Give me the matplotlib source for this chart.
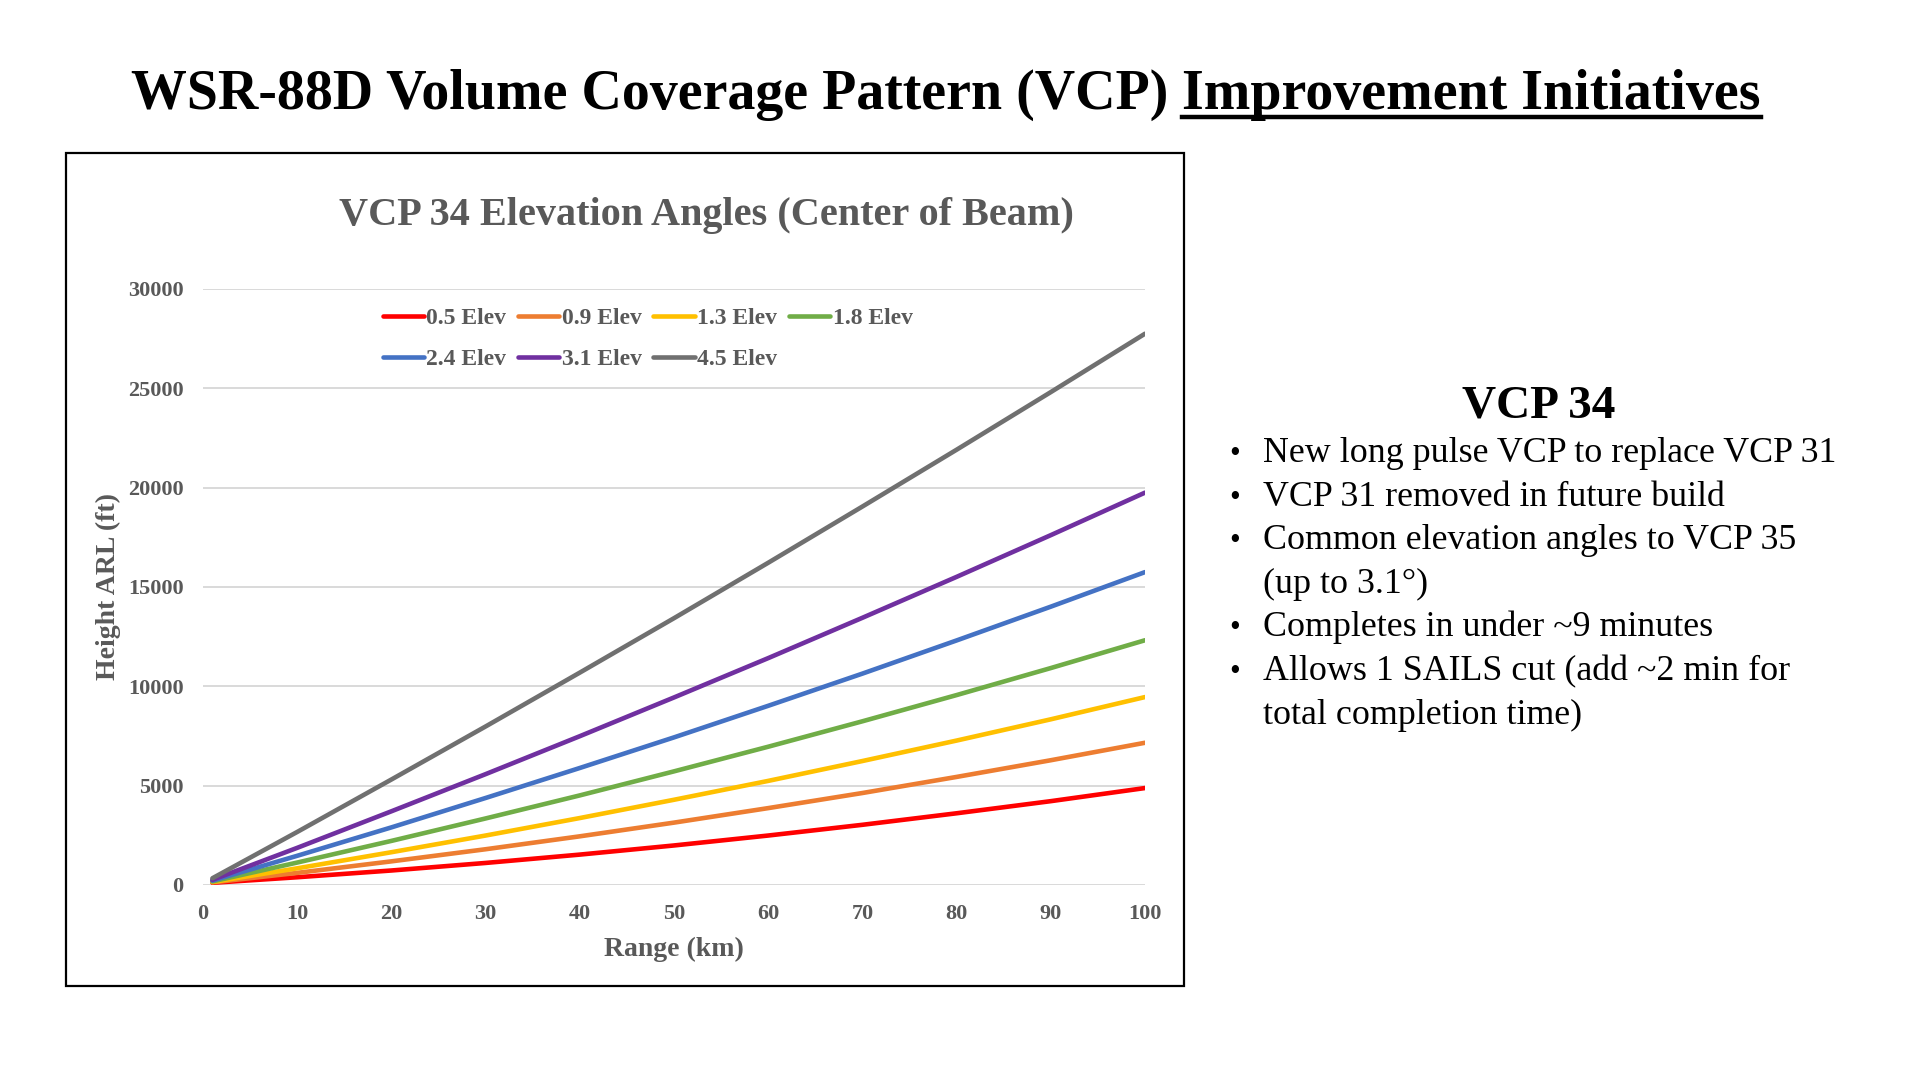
import matplotlib
matplotlib.use('Agg')
import matplotlib.pyplot as plt
from matplotlib.lines import Line2D
from matplotlib.patches import Rectangle

plt.rcParams['font.family'] = ['Liberation Serif', 'DejaVu Serif']

# range (km) and beam-centre heights (ft)
rango_km = [1, 10, 20, 30, 40, 50, 60, 70, 80, 90, 100]
elev_05 = [110, 390, 730, 1110, 1530, 1990, 2490, 3030, 3610, 4220, 4880]
elev_09 = [130, 610, 1190, 1800, 2450, 3140, 3870, 4630, 5440, 6280, 7160]
elev_13 = [150, 840, 1650, 2490, 3370, 4290, 5240, 6240, 7270, 8340, 9460]
elev_18 = [180, 1130, 2220, 3350, 4510, 5720, 6960, 8240, 9560, 10920, 12320]
elev_24 = [220, 1470, 2900, 4380, 5890, 7430, 9020, 10640, 12310, 14010, 15750]
elev_31 = [260, 1870, 3710, 5580, 7490, 9440, 11420, 13450, 15510, 17610, 19750]
elev_45 = [340, 2670, 5310, 7980, 10690, 13430, 16220, 19050, 21910, 24810, 27750]

nombres = ['0.5 Elev', '0.9 Elev', '1.3 Elev', '1.8 Elev', '2.4 Elev', '3.1 Elev', '4.5 Elev']
series = [elev_05, elev_09, elev_13, elev_18, elev_24, elev_31, elev_45]
colores = ['#FF0000', '#ED7D31', '#FFC000', '#70AD47', '#4472C4', '#7030A0', '#707070']

viñetas = ['New long pulse VCP to replace VCP 31',
           'VCP 31 removed in future build',
           'Common elevation angles to VCP 35',
           None,
           'Completes in under ~9 minutes',
           'Allows 1 SAILS cut (add ~2 min for',
           None]
continuaciones = [None, None, None, '(up to 3.1°)', None, None, 'total completion time)']

gris = '#595959'
W, H = 1920, 1080

fig = plt.figure(figsize=(19.2, 10.8), dpi=100)
fig.patch.set_facecolor('white')

# caja del grafico
fig.patches.append(Rectangle((66 / W, 1 - 986 / H), (1184 - 66) / W, (986 - 153) / H,
                             transform=fig.transFigure, fill=False,
                             edgecolor='black', linewidth=1.6))

ax = fig.add_axes([203 / W, 1 - 885 / H, (1145 - 203) / W, (885 - 289) / H])
lineas = []
for nombre, valores, color in zip(nombres, series, colores):
    l, = ax.plot(rango_km, valores, color=color, lw=3.3, label=nombre,
                 solid_capstyle='round')
    lineas.append(l)

ax.set_xlim(0, 100)
ax.set_ylim(0, 30000)
ax.set_xticks(range(0, 101, 10))
ax.set_yticks(range(0, 30001, 5000))
ax.grid(axis='y', color='#D9D9D9', lw=1.4)
ax.set_axisbelow(True)
for s in ax.spines.values():
    s.set_visible(False)
ax.tick_params(length=0, labelsize=16, labelcolor=gris)
ax.tick_params(axis='x', pad=14)
ax.tick_params(axis='y', pad=14)
for t in ax.get_xticklabels() + ax.get_yticklabels():
    t.set_fontweight('bold')
ax.set_xlabel('Range (km)', fontsize=20, fontweight='bold', color=gris, labelpad=9)
ax.set_ylabel('Height ARL (ft)', fontsize=20, fontweight='bold', color=gris, labelpad=5)

orden = [0, 4, 1, 5, 2, 6, 3]
leg = ax.legend([lineas[i] for i in orden], [nombres[i] for i in orden],
                ncol=4, loc='upper left', bbox_to_anchor=(0.168, 1.004),
                frameon=False, handlelength=1.75, handletextpad=0.1,
                columnspacing=0.5, labelspacing=0.8,
                prop={'size': 17, 'weight': 'bold'})
for t in leg.get_texts():
    t.set_color(gris)

fig.text(706 / W, 1 - 225 / H, 'VCP 34 Elevation Angles (Center of Beam)',
         fontsize=29, fontweight='bold', color=gris, ha='center', va='baseline')

# titulo principal con parte subrayada
t1 = fig.text(131 / W, 1 - 109 / H, 'WSR-88D Volume Coverage Pattern (VCP) ',
              fontsize=40.2, fontweight='bold', color='black', ha='left', va='baseline')
fig.canvas.draw()
r = fig.canvas.get_renderer()
bb = t1.get_window_extent(r)
t2 = fig.text(bb.x1 / W, 1 - 109 / H, 'Improvement Initiatives',
              fontsize=40.2, fontweight='bold', color='black', ha='left', va='baseline')
bb2 = t2.get_window_extent(r)
fig.add_artist(Line2D([bb2.x0 / W, bb2.x1 / W], [1 - 117 / H, 1 - 117 / H],
                      transform=fig.transFigure, color='black', lw=3.2))

# texto de la derecha
fig.text(1539 / W, 1 - 418 / H, 'VCP 34', fontsize=34, fontweight='bold',
         ha='center', va='baseline')
y0, paso = 462, 43.6
for i, (v, c) in enumerate(zip(viñetas, continuaciones)):
    y = 1 - (y0 + i * paso) / H
    if v is not None:
        fig.text(1229 / W, y, '•', fontsize=22, ha='left', va='baseline')
        fig.text(1263 / W, y, v, fontsize=25.8, ha='left', va='baseline')
    else:
        fig.text(1263 / W, y, c, fontsize=25.8, ha='left', va='baseline')

fig.savefig('out.png', dpi=100)
